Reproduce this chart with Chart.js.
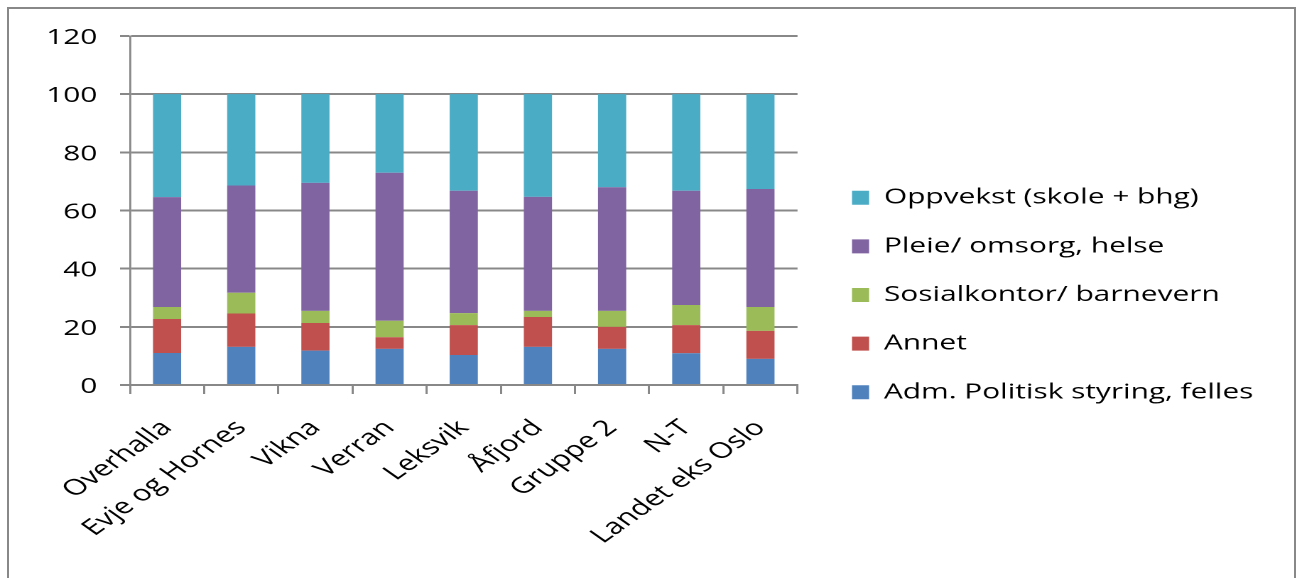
<!DOCTYPE html>
<html lang="no">
<head>
<meta charset="utf-8">
<title>Utgifter per sektor</title>
<script src="https://cdn.jsdelivr.net/npm/chart.js@4/dist/chart.umd.min.js"></script>
<style>
    html, body { margin: 0; padding: 0; background: #fff; overflow: hidden; }
    #frame {
        position: absolute; left: 7px; top: 7px; width: 1289px; height: 640px;
        border: 2px solid #888; box-sizing: border-box;
    }
    /* the original picture is stretched sideways, so the chart is drawn narrow and scaled */
    #wrap {
        position: absolute; left: 0; top: 0; width: 913px; height: 578px;
        transform: scaleX(1.42059); transform-origin: 0 0;
    }
</style>
</head>
<body>
<div id="frame"></div>
<div id="wrap"><canvas id="sectorChart" width="913" height="578"></canvas></div>
<script>
const categories = ['Overhalla', 'Evje og Hornes', 'Vikna', 'Verran', 'Leksvik', 'Åfjord', 'Gruppe 2', 'N-T', 'Landet eks Oslo'];

const admValues = [11.0, 13.1, 11.8, 12.4, 10.3, 13.1, 12.4, 10.9, 9.0];
const annetValues = [11.7, 11.5, 9.5, 4.0, 10.3, 10.3, 7.6, 9.7, 9.6];
const sosialValues = [4.1, 7.1, 4.2, 5.7, 4.1, 2.1, 5.5, 6.9, 8.2];
const pleieValues = [37.8, 36.9, 44.0, 50.9, 42.1, 39.2, 42.5, 39.3, 40.6];
const oppvekstValues = [35.4, 31.4, 30.5, 27.0, 33.2, 35.3, 32.0, 33.2, 32.6];

const seriesNames = ['Adm. Politisk styring, felles', 'Annet', 'Sosialkontor/ barnevern', 'Pleie/ omsorg, helse', 'Oppvekst (skole + bhg)'];
const seriesColors = ['#4F81BD', '#C0504D', '#9BBB59', '#8064A2', '#4BACC6'];

const yTicks = [0, 20, 40, 60, 80, 100, 120];

document.addEventListener('DOMContentLoaded', function() {
    const gridColor = '#888';
    const fontFamily = "'Open Sans', sans-serif";
    const fontSize = 21;
    Chart.defaults.font.family = fontFamily;
    Chart.defaults.font.size = fontSize;
    Chart.defaults.color = '#000';

    // legend sizes (canvas units, before the sideways stretch)
    const legendBox = 12;
    const legendPadding = 27.65;
    const legendLeft = 572.1;

    // work out how wide the legend gets, so it starts where it should
    const measure = document.createElement('canvas').getContext('2d');
    measure.font = fontSize + 'px ' + fontFamily;
    const longest = Math.max(...seriesNames.map(n => measure.measureText(n).width));
    const legendWidth = legendPadding + legendBox + fontSize / 2 + longest + 10;
    const padRight = 913 - legendLeft - legendWidth;

    const seriesValues = [admValues, annetValues, sosialValues, pleieValues, oppvekstValues];
    const datasets = seriesValues.map((values, i) => ({
        label: seriesNames[i],
        data: values,
        backgroundColor: seriesColors[i],
        borderWidth: 0,
        categoryPercentage: 0.38,
        barPercentage: 1
    }));

    const ctx = document.getElementById('sectorChart').getContext('2d');
    new Chart(ctx, {
        type: 'bar',
        data: {
            labels: categories,
            datasets: datasets
        },
        options: {
            responsive: false,
            animation: false,
            devicePixelRatio: 2,
            layout: {
                padding: { left: 0, top: 36, right: padRight, bottom: 24 }
            },
            plugins: {
                tooltip: { enabled: false },
                legend: {
                    position: 'right',
                    reverse: true,
                    maxWidth: legendWidth + 1,
                    labels: {
                        boxWidth: legendBox,
                        boxHeight: 14,
                        padding: legendPadding,
                        color: '#000'
                    }
                }
            },
            scales: {
                x: {
                    stacked: true,
                    grid: {
                        drawOnChartArea: false,
                        color: gridColor,
                        lineWidth: 1.5,
                        tickLength: 9
                    },
                    border: { color: gridColor, width: 2 },
                    ticks: {
                        autoSkip: false,
                        minRotation: 45,
                        maxRotation: 45,
                        padding: 21,
                        font: { size: 22 }
                    },
                    afterFit: function(scale) { scale.height = 169; }
                },
                y: {
                    stacked: true,
                    min: 0,
                    max: 120,
                    afterBuildTicks: function(scale) {
                        scale.ticks = yTicks.map(v => ({ value: v }));
                    },
                    grid: {
                        color: gridColor,
                        lineWidth: 2,
                        tickLength: 7
                    },
                    border: { color: gridColor, width: 1.4 },
                    ticks: {
                        padding: 16,
                        labelOffset: 2
                    },
                    afterFit: function(scale) { scale.width = 91.5; }
                },
                // empty spacer between the plot and the legend
                y2: {
                    position: 'right',
                    display: true,
                    grid: { display: false },
                    border: { display: false },
                    ticks: { display: false },
                    afterFit: function(scale) { scale.width = 10.7; }
                }
            }
        }
    });
});
</script>
</body>
</html>
